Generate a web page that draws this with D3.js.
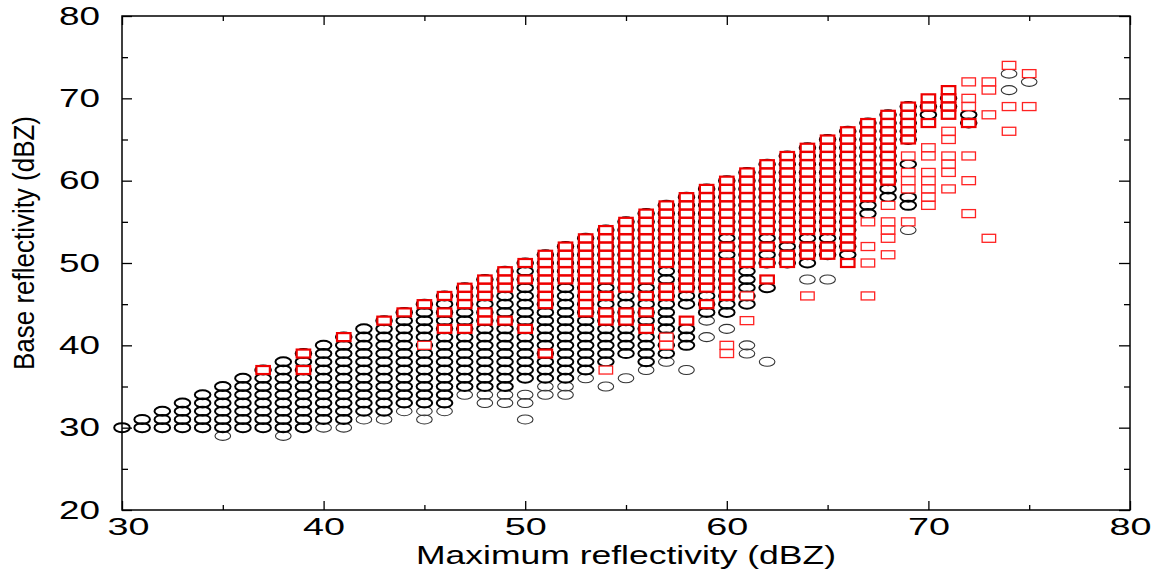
<!DOCTYPE html>
<html>
<head>
<meta charset="utf-8">
<script src="https://cdn.jsdelivr.net/npm/d3@7"></script>
<style>
  html, body { margin: 0; padding: 0; background: #fff; }
  svg { display: block; }
  text { font-family: "Liberation Sans", Arial, Helvetica, sans-serif; fill: #000; }
</style>
</head>
<body>
<svg id="chart" width="1155" height="573"></svg>
<script>
// Maximum reflectivity (dBZ) of each column of points
const maxRefl = [30, 31, 32, 33, 34, 35, 36, 37, 38, 39,
                 40, 41, 42, 43, 44, 45, 46, 47, 48, 49,
                 50, 51, 52, 53, 54, 55, 56, 57, 58, 59,
                 60, 61, 62, 63, 64, 65, 66, 67, 68, 69,
                 70, 71, 72, 73, 74, 75];

// Base reflectivity values per column ("a-b" = every integer dBZ from a to b)
// Black circles, frequent values
const circleBase = [
  "30", "30-31", "30-32", "30-33", "30-34", "30-35", "30-36", "30-37", "30-38", "30-39",
  "31-40", "31-41", "32-42", "32-43", "33-44", "33-45", "33-46", "35-47", "35-48", "35-49",
  "36-50", "36-51", "36-52", "37-53", "38-54", "39-55", "38-56", "39-57", "45-58,40-42", "44-59",
  "44-60", "45-61", "50-62,47", "50-63", "50-64", "51-65", "51-66", "56-67", "58-68", "57,58,62,65-69",
  "68,69", "69,70", "67,68", "", "", ""
];
// Black circles, rare values
const circleBaseRare = [
  "", "", "", "", "", "29", "", "", "29", "",
  "30", "30", "31", "31", "32", "31,32", "32", "34", "33,34", "33,34",
  "31,33,34", "34,35", "34,35", "36", "35", "36", "37", "38", "37", "41,43",
  "42", "39,40", "38", "", "48", "48", "", "", "", "54",
  "", "", "", "", "71,73", "72"
];
// Red squares, frequent values
const squareBase = [
  "", "", "", "", "", "", "", "37", "", "37,39",
  "", "41", "", "43", "44", "45", "46,44,42", "45-47,42", "46-48,44,43", "47-49,43",
  "50,48,42", "45-51,39", "48-52", "44-53", "48-54,46,44,43", "47-55,44,43", "48-56,46,44,42", "50-57,47,46", "47-58,43", "47-59,45",
  "54-60,52,46-50", "50-61", "54-62,52,50,48", "53-63,51,50", "54-64,52,51", "54-65,52,51", "52-66,50", "58-67", "60-68", "65-69",
  "70,69,67", "71,70,69,68", "67", "", "", ""
];
// Red squares, rare values
const squareBaseRare = [
  "", "", "", "", "", "", "", "", "", "",
  "", "", "", "", "", "40", "", "", "", "",
  "", "", "", "", "37", "", "", "41,40", "", "",
  "40,39", "46,43", "", "", "46", "", "", "55,52,50,46", "57,55,54,53,51", "63,61,60,59,55",
  "64,63,61,60,59,58,57", "66,65,63,62,61,59", "72,70,69,63,60,56", "72,71,68,53", "74,69,66", "73,69"
];

// Axis ticks
const xMajor = [30, 40, 50, 60, 70, 80];
const xMinor = [35, 45, 55, 65, 75];
const yMajor = [20, 30, 40, 50, 60, 70, 80];
const yMinor = [25, 35, 45, 55, 65, 75];

// Expand a "a-b,c" list into individual dBZ values
function expand(spec) {
  if (!spec) return [];
  const out = [];
  spec.split(",").forEach(part => {
    const [a, b] = part.split("-").map(Number);
    if (b === undefined) { out.push(a); return; }
    for (let v = Math.min(a, b); v <= Math.max(a, b); v++) out.push(v);
  });
  return out;
}
function toPoints(specs) {
  const pts = [];
  specs.forEach((s, i) => expand(s).forEach(v => pts.push({ x: maxRefl[i], y: v })));
  return pts;
}

const svg = d3.select("#chart");
const plotL = 122, plotR = 1130, plotT = 16, plotB = 510;
const x = d3.scaleLinear().domain([30, 80]).range([plotL, plotR]);
const y = d3.scaleLinear().domain([20, 80]).range([plotB, plotT]);

// Frame and inward ticks on all four sides
const axes = svg.append("g").attr("class", "axes");
function tickAxis(axis, transform) {
  const g = axes.append("g").attr("transform", transform).call(axis);
  g.select(".domain").remove();
  g.selectAll(".tick line").attr("stroke", "#000").attr("stroke-width", 1.3);
  return g;
}
const xb = tickAxis(d3.axisBottom(x).tickValues(xMajor).tickSize(-9).tickPadding(8)
  .tickFormat(d3.format("d")), `translate(0,${plotB})`);
tickAxis(d3.axisBottom(x).tickValues(xMinor).tickSize(-5).tickFormat(""), `translate(0,${plotB})`);
tickAxis(d3.axisTop(x).tickValues(xMajor).tickSize(-9).tickFormat(""), `translate(0,${plotT})`);
tickAxis(d3.axisTop(x).tickValues(xMinor).tickSize(-5).tickFormat(""), `translate(0,${plotT})`);
const yl = tickAxis(d3.axisLeft(y).tickValues(yMajor).tickSize(-10).tickPadding(22)
  .tickFormat(d3.format("d")), `translate(${plotL},0)`);
tickAxis(d3.axisLeft(y).tickValues(yMinor).tickSize(-6).tickFormat(""), `translate(${plotL},0)`);
tickAxis(d3.axisRight(y).tickValues(yMajor).tickSize(-11).tickFormat(""), `translate(${plotR},0)`);
tickAxis(d3.axisRight(y).tickValues(yMinor).tickSize(-6).tickFormat(""), `translate(${plotR},0)`);

xb.selectAll("text").attr("font-size", 24).attr("textLength", 42)
  .attr("lengthAdjust", "spacingAndGlyphs").attr("fill", "#000")
  .attr("font-family", "Liberation Sans, Arial, sans-serif")
  .attr("dx", d => d === 30 ? 6 : 0);
yl.selectAll("text").attr("font-size", 25).attr("textLength", 41)
  .attr("lengthAdjust", "spacingAndGlyphs").attr("fill", "#000")
  .attr("font-family", "Liberation Sans, Arial, sans-serif");

axes.append("rect")
  .attr("x", plotL).attr("y", plotT)
  .attr("width", plotR - plotL).attr("height", plotB - plotT)
  .attr("fill", "none").attr("stroke", "#000").attr("stroke-width", 1.5);

// Axis titles
svg.append("text")
  .attr("x", (plotL + plotR) / 2).attr("y", 564)
  .attr("text-anchor", "middle").attr("font-size", 25)
  .attr("textLength", 420).attr("lengthAdjust", "spacingAndGlyphs")
  .text("Maximum reflectivity (dBZ)");
svg.append("text")
  .attr("transform", `translate(34,243) rotate(-90)`)
  .attr("text-anchor", "middle").attr("font-size", 29)
  .attr("textLength", 254).attr("lengthAdjust", "spacingAndGlyphs")
  .text("Base reflectivity (dBZ)");

// Points
const marks = svg.append("g").attr("class", "marks");
const rx = 7.8, ry = 4.5, sw = 13.5, sh = 8;

marks.selectAll("ellipse.rare").data(toPoints(circleBaseRare)).join("ellipse")
  .attr("class", "rare")
  .attr("cx", d => x(d.x)).attr("cy", d => y(d.y))
  .attr("rx", rx).attr("ry", ry)
  .attr("fill", "none").attr("stroke", "#333").attr("stroke-width", 1.1);

marks.selectAll("ellipse.freq").data(toPoints(circleBase)).join("ellipse")
  .attr("class", "freq")
  .attr("cx", d => x(d.x)).attr("cy", d => y(d.y))
  .attr("rx", rx).attr("ry", ry)
  .attr("fill", "none").attr("stroke", "#000").attr("stroke-width", 2);

marks.selectAll("rect.rare").data(toPoints(squareBaseRare)).join("rect")
  .attr("class", "rare")
  .attr("x", d => x(d.x) - sw / 2).attr("y", d => y(d.y) - sh / 2)
  .attr("width", sw).attr("height", sh)
  .attr("fill", "#fff").attr("stroke", "#f22").attr("stroke-width", 1.3);

marks.selectAll("rect.freq").data(toPoints(squareBase)).join("rect")
  .attr("class", "freq")
  .attr("x", d => x(d.x) - sw / 2).attr("y", d => y(d.y) - sh / 2)
  .attr("width", sw).attr("height", sh)
  .attr("fill", "#fff").attr("stroke", "#e00").attr("stroke-width", 2.2);
</script>
</body>
</html>
